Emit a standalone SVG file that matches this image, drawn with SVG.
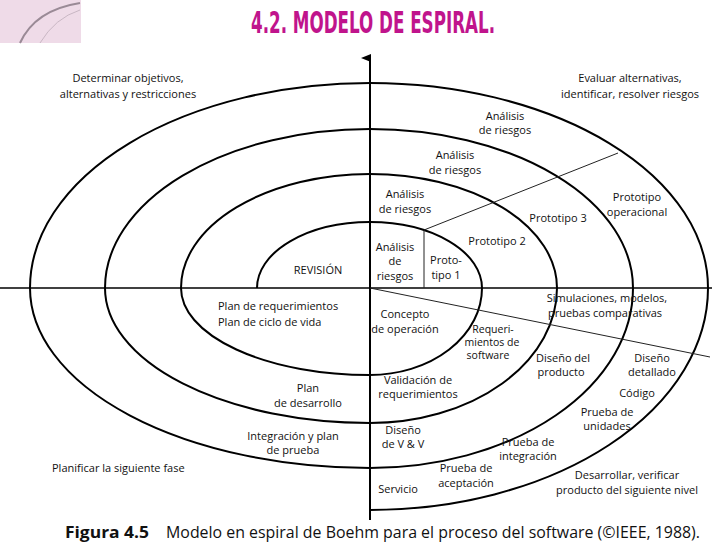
<svg xmlns="http://www.w3.org/2000/svg" width="728" height="546" viewBox="0 0 728 546">
<style>
text{font-family:"Open Sans","DejaVu Sans",sans-serif;font-size:11px;fill:#111;text-anchor:middle}
.l{text-anchor:start}
.s{font-size:10.5px}
.sp{fill:none;stroke:#000;stroke-width:2}
.thin{fill:none;stroke:#222;stroke-width:1}
</style>
<defs><marker id="ah" markerWidth="8" markerHeight="10" refX="4" refY="9" orient="auto-start-reverse" markerUnits="userSpaceOnUse"><path d="M0,10 L4,0 L8,10 Z" fill="#000"/></marker></defs>
<rect width="728" height="546" fill="#fff"/>
<g id="deco"><rect x="0" y="0" width="81" height="43" fill="#efdbe8"/><path d="M20,43 Q35,10 80,3" fill="none" stroke="#9a8a96" stroke-width="2"/><path d="M40,43 Q55,18 80,10" fill="none" stroke="#c9b7c4" stroke-width="1"/></g>
<text x="373" y="33" style="font-family:'DejaVu Sans Condensed','Liberation Sans',sans-serif;font-size:30px;font-weight:bold;fill:#c0148c" textLength="244" lengthAdjust="spacingAndGlyphs">4.2. MODELO DE ESPIRAL.</text>
<g id="connectors">
<line x1="0" y1="288" x2="712" y2="288" stroke="#000" stroke-width="1.5"/>
<line x1="370" y1="520" x2="370" y2="58" stroke="#000" stroke-width="2" marker-end="url(#ah)"/>
<path class="sp" d="M257,288 A113 66 0 0 1 370,222 A112 66 0 0 1 482,288 A112 87 0 0 1 370,375 A189 87 0 0 1 181,288 A189 114 0 0 1 370,174 A187 114 0 0 1 557,288 A187 135 0 0 1 370,423 A265 135 0 0 1 105,288 A265 159 0 0 1 370,129 A263 159 0 0 1 633,288 A263 180 0 0 1 370,468 A340 180 0 0 1 30,288 A340 205 0 0 1 370,83 A338 205 0 0 1 708,288 A338 222 0 0 1 370,510"/>
<line class="thin" x1="424" y1="230" x2="618" y2="153"/>
<line class="thin" x1="424" y1="230" x2="424" y2="288"/>
<line class="thin" x1="370" y1="288" x2="710" y2="357"/>
</g>
<g id="labels">
<text x="128" y="82">Determinar objetivos,</text><text x="128" y="98">alternativas y restricciones</text>
<text x="630" y="82">Evaluar alternativas,</text><text x="630" y="98">identificar, resolver riesgos</text>
<text x="505" y="120">Análisis</text><text x="505" y="134">de riesgos</text>
<text x="455" y="159">Análisis</text><text x="455" y="174">de riesgos</text>
<text x="405" y="198">Análisis</text><text x="405" y="213">de riesgos</text>
<text x="558" y="222">Prototipo 3</text>
<text x="637" y="201">Prototipo</text><text x="637" y="216">operacional</text>
<text x="497" y="245">Prototipo 2</text>
<text x="395" y="251">Análisis</text><text x="395" y="265">de</text><text x="395" y="280">riesgos</text>
<text x="446" y="264">Proto-</text><text x="446" y="279">tipo 1</text>
<text x="318" y="274">REVISIÓN</text>
<text class="l" x="218" y="310">Plan de requerimientos</text><text class="l" x="218" y="326">Plan de ciclo de vida</text>
<text x="405" y="318">Concepto</text><text x="405" y="333">de operación</text>
<text class="s" x="493" y="333">Requeri-</text><text class="s" x="492" y="346">mientos de</text><text class="s" x="488" y="359">software</text>
<text x="607" y="302">Simulaciones, modelos,</text><text x="605" y="317">pruebas comparativas</text>
<text x="563" y="362">Diseño del</text><text x="561" y="376">producto</text>
<text x="652" y="362">Diseño</text><text x="652" y="376">detallado</text>
<text x="418" y="384">Validación de</text><text x="418" y="398">requerimientos</text>
<text x="308" y="392">Plan</text><text x="308" y="407">de desarrollo</text>
<text x="637" y="397">Código</text>
<text x="607" y="416">Prueba de</text><text x="607" y="430">unidades</text>
<text x="293" y="440">Integración y plan</text><text x="293" y="454">de prueba</text>
<text x="403" y="434">Diseño</text><text x="403" y="448">de V &amp; V</text>
<text x="528" y="446">Prueba de</text><text x="528" y="460">integración</text>
<text class="l" x="52" y="472">Planificar la siguiente fase</text>
<text x="466" y="472">Prueba de</text><text x="466" y="487">aceptación</text>
<text x="398" y="493">Servicio</text>
<text x="627" y="479">Desarrollar, verificar</text><text x="627" y="494">producto del siguiente nivel</text>
</g>
<text class="l" x="65" y="538" style="font-size:16px;font-weight:bold" textLength="84" lengthAdjust="spacingAndGlyphs">Figura 4.5</text>
<text class="l" x="166" y="538" style="font-size:16px" textLength="534" lengthAdjust="spacingAndGlyphs">Modelo en espiral de Boehm para el proceso del software (©IEEE, 1988).</text>
</svg>
